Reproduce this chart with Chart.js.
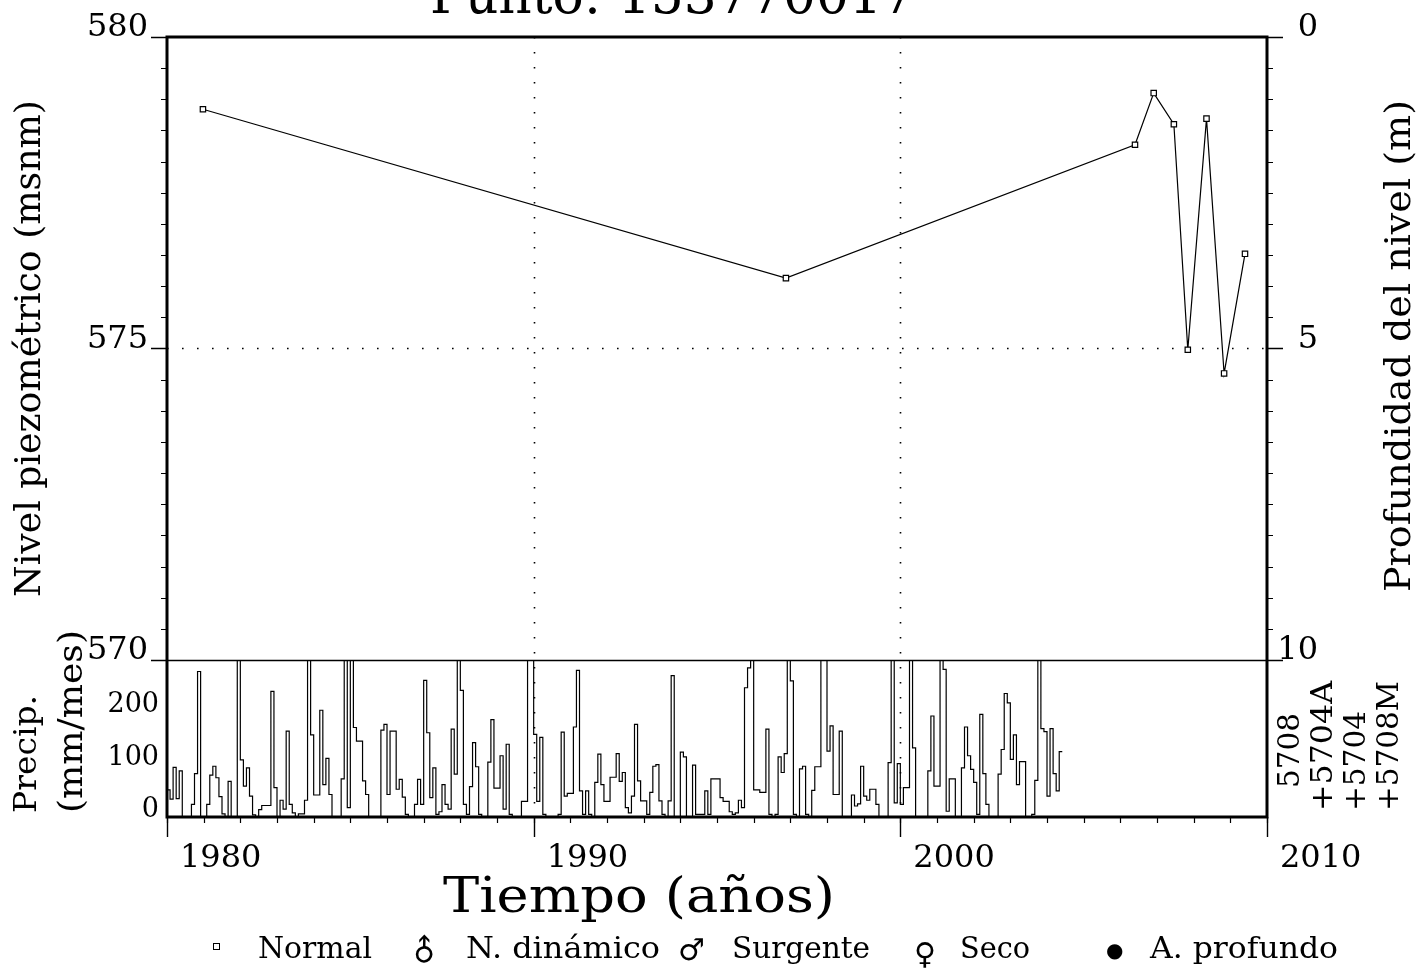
<!DOCTYPE html>
<html lang="es">
<head>
<meta charset="utf-8">
<title>Punto: 153770017</title>
<script src="https://cdn.jsdelivr.net/npm/chart.js@4.4.1/dist/chart.umd.min.js"></script>
<style>
html,body{margin:0;padding:0;background:#fff;}
#wrap{position:relative;width:1417px;height:969px;overflow:hidden;background:#fff;}
#c{position:absolute;left:0;top:0;}
.txt{position:absolute;white-space:nowrap;line-height:1;color:#000;font-family:"DejaVu Serif",serif;}
.sq{position:absolute;width:5px;height:5px;border:1.2px solid #000;background:#fff;}
</style>
</head>
<body>
<div id="wrap"><canvas id="c" width="1417" height="969"></canvas></div>
<script>
// ---------------- DATA ----------------
const chartTitle = 'Punto: 153770017';
const xTitle = 'Tiempo (años)';
const levelTitle = 'Nivel piezométrico (msnm)';
const depthTitle = 'Profundidad del nivel (m)';
const precipTitle = ['Precip.', '(mm/mes)'];
const precipStations = ['5708', '+5704A', '+5704', '+5708M'];
const legendLabels = ['Normal', 'N. dinámico', 'Surgente', 'Seco', 'A. profundo'];

// piezometric level measurements (decimal year, m a.s.l.)
const levelDates  = [1980.98, 1996.88, 2006.40, 2006.91, 2007.46, 2007.84, 2008.35, 2008.83, 2009.40];
const levelValues = [578.84, 576.13, 578.27, 579.10, 578.60, 574.98, 578.69, 574.60, 576.52];

// monthly precipitation (mm/month) from January 1980
const precipStartYear = 1980;
const precipMonthly = [
  52, 34, 95, 35, 88, 0, 0, 0, 24, 83, 278, 0,          // 1980
  0, 24, 80, 97, 75, 39, 6, 0, 68, 0, 0, 350,           // 1981
  109, 59, 94, 40, 4, 0, 14, 22, 22, 22, 240, 56,       // 1982
  0, 32, 15, 164, 24, 8, 0, 6, 6, 32, 350, 157,         // 1983
  42, 42, 204, 62, 112, 43, 0, 0, 0, 73, 350, 18,       // 1984
  350, 171, 145, 145, 69, 43, 0, 0, 0, 0, 166, 177,     // 1985
  43, 164, 164, 53, 72, 38, 5, 0, 0, 24, 72, 24,        // 1986
  261, 161, 37, 94, 5, 10, 62, 24, 15, 168, 82, 350,    // 1987
  242, 24, 5, 58, 142, 96, 5, 0, 0, 105, 186, 55,       // 1988
  55, 117, 15, 139, 5, 0, 0, 0, 30, 30, 350, 350,       // 1989
  158, 30, 152, 5, 0, 0, 0, 0, 5, 162, 40, 45,          // 1990
  45, 172, 280, 50, 5, 50, 5, 0, 66, 120, 62, 30,       // 1991
  30, 76, 76, 121, 68, 85, 18, 8, 40, 177, 69, 31,      // 1992
  31, 5, 47, 97, 100, 31, 5, 0, 31, 270, 0, 0,          // 1993
  124, 115, 0, 0, 99, 5, 5, 5, 50, 5, 73, 73,           // 1994
  73, 37, 30, 30, 10, 5, 8, 32, 18, 247, 285, 350,      // 1995
  52, 52, 47, 47, 168, 5, 0, 5, 115, 85, 121, 350,      // 1996
  260, 5, 0, 92, 97, 5, 0, 51, 96, 96, 350, 350,        // 1997
  126, 174, 43, 43, 164, 0, 0, 0, 42, 21, 25, 97,       // 1998
  40, 32, 53, 53, 24, 0, 0, 0, 104, 350, 27, 102,       // 1999
  24, 56, 56, 350, 132, 0, 0, 0, 0, 88, 193, 59,        // 2000
  59, 350, 282, 11, 73, 73, 0, 0, 94, 172, 117, 91,     // 2001
  66, 5, 196, 83, 24, 0, 0, 0, 82, 129, 236, 218,       // 2002
  110, 157, 62, 106, 106, 0, 0, 5, 70, 350, 169, 163,   // 2003
  40, 169, 83, 50, 125                                  // 2004
];

// axis ticks
const xTicks = [1980, 1990, 2000, 2010];
const levelTicks = [570, 575, 580];
const depthTicks = [0, 5, 10];
const precipTicks = [0, 100, 200];
const precipPanelMax = 300;

// ---------------- LAYOUT ----------------
const AREA = {left: 167, right: 1267, top: 37, split: 660, bottom: 817};
const W = 1417, H = 969;
const levelMin = levelTicks[0], levelMax = levelTicks[levelTicks.length - 1];
const lvlPerPx = (levelMax - levelMin) / (AREA.split - AREA.top);
const levelAxisMin = levelMin - (AREA.bottom - AREA.split) * lvlPerPx;
const precipAxisMax = precipPanelMax * (AREA.bottom - AREA.top) / (AREA.bottom - AREA.split);
const depthAxisMax = levelMax - levelAxisMin;

const levelPoints = levelDates.map((d, i) => ({x: d, y: levelValues[i]}));
const precipPoints = precipMonthly.map((v, i) => ({x: precipStartYear + i / 12, y: v}));
precipPoints.push({x: precipStartYear + precipMonthly.length / 12, y: precipMonthly[precipMonthly.length - 1]});

const SERIF = '"DejaVu Serif", serif';

const axesPlugin = {
  id: 'axesFrame',
  beforeDatasetDraw(chart, args) {
    if (args.index === 1) {
      const a = chart.chartArea, ctx = chart.ctx;
      const yTop = chart.scales.yPrecip.getPixelForValue(precipPanelMax);
      ctx.save();
      ctx.beginPath();
      ctx.rect(a.left, yTop, a.right - a.left, a.bottom - yTop);
      ctx.clip();
    }
  },
  afterDatasetDraw(chart, args) {
    if (args.index === 1) chart.ctx.restore();
  },
  beforeDatasetsDraw(chart) {
    const {ctx, chartArea: a, scales: {x, yLevel}} = chart;
    ctx.save();
    ctx.strokeStyle = '#000';
    ctx.lineWidth = 1.6;
    ctx.setLineDash([1.6, 13.4]);
    ctx.beginPath();
    xTicks.filter(v => v > x.min && v < x.max).forEach(v => {
      const px = Math.round(x.getPixelForValue(v)) + 0.5;
      ctx.moveTo(px, a.top); ctx.lineTo(px, a.bottom);
    });
    levelTicks.filter(v => v > levelMin && v < levelMax).forEach(v => {
      const py = Math.round(yLevel.getPixelForValue(v)) + 0.5;
      ctx.moveTo(a.left, py); ctx.lineTo(a.right, py);
    });
    ctx.stroke();
    ctx.restore();
  },
  afterDraw(chart) {
    const {ctx, chartArea: a, scales: {x, yLevel, yPrecip, yDepth}} = chart;
    ctx.save();
    ctx.strokeStyle = '#000';
    ctx.fillStyle = '#000';
    // minor ticks
    ctx.lineWidth = 1.2;
    ctx.beginPath();
    for (let v = levelMin; v <= levelMax + 1e-9; v += 0.5) {
      const y = Math.round(yLevel.getPixelForValue(v)) + 0.5;
      ctx.moveTo(a.left - 6, y); ctx.lineTo(a.left, y);
    }
    for (let d = 0; d <= depthTicks[depthTicks.length - 1] + 1e-9; d += 0.5) {
      const y = Math.round(yDepth.getPixelForValue(d)) + 0.5;
      ctx.moveTo(a.right, y); ctx.lineTo(a.right + 6, y);
    }
    for (let yr = x.min; yr <= x.max; yr++) {
      const px = Math.round(x.getPixelForValue(yr)) + 0.5;
      ctx.moveTo(px, a.bottom); ctx.lineTo(px, a.bottom + 6);
    }
    ctx.stroke();
    // major ticks
    ctx.lineWidth = 1.4;
    ctx.beginPath();
    levelTicks.forEach(v => {
      const y = Math.round(yLevel.getPixelForValue(v)) + 0.5;
      ctx.moveTo(a.left - 16, y); ctx.lineTo(a.left, y);
    });
    depthTicks.forEach(v => {
      const y = Math.round(yDepth.getPixelForValue(v)) + 0.5;
      ctx.moveTo(a.right, y); ctx.lineTo(a.right + 16, y);
    });
    xTicks.forEach(v => {
      const px = Math.round(x.getPixelForValue(v)) + 0.5;
      ctx.moveTo(px, a.bottom); ctx.lineTo(px, a.bottom + 20);
    });
    // panel separator
    const ys = Math.round(yLevel.getPixelForValue(levelMin)) + 0.5;
    ctx.moveTo(a.left, ys); ctx.lineTo(a.right, ys);
    ctx.stroke();
    // frame
    ctx.lineWidth = 3;
    ctx.beginPath();
    ctx.rect(a.left, a.top, a.right - a.left, a.bottom - a.top);
    ctx.stroke();
    // tick labels
    ctx.textBaseline = 'alphabetic';
    ctx.font = '32px ' + SERIF;
    ctx.textAlign = 'right';
    levelTicks.forEach(v => ctx.fillText(String(v), a.left - 19, yLevel.getPixelForValue(v) - 1));
    depthTicks.forEach(v => ctx.fillText(String(v), a.right + 51, yDepth.getPixelForValue(v) - 1));
    ctx.textAlign = 'left';
    xTicks.forEach(v => ctx.fillText(String(v), x.getPixelForValue(v) + 13, a.bottom + 50));
    ctx.font = '27px ' + SERIF;
    ctx.textAlign = 'right';
    precipTicks.forEach(v => ctx.fillText(String(v), a.left - 8, yPrecip.getPixelForValue(v)));
    ctx.restore();
  }
};

new Chart(document.getElementById('c'), {
  type: 'line',
  data: {
    datasets: [
      {
        label: 'Nivel piezométrico',
        data: levelPoints,
        yAxisID: 'yLevel',
        borderColor: '#000',
        borderWidth: 1.2,
        tension: 0,
        pointStyle: 'rect',
        pointRadius: 3.8,
        pointBorderWidth: 1.2,
        pointBackgroundColor: '#fff',
        pointBorderColor: '#000'
      },
      {
        label: 'Precipitación',
        data: precipPoints,
        yAxisID: 'yPrecip',
        stepped: 'before',
        borderColor: '#000',
        borderWidth: 1.2,
        pointRadius: 0,
        fill: false
      }
    ]
  },
  options: {
    responsive: false,
    animation: false,
    devicePixelRatio: 1,
    events: [],
    layout: {padding: {left: AREA.left, right: W - AREA.right, top: AREA.top, bottom: H - AREA.bottom}},
    plugins: {legend: {display: false}, tooltip: {enabled: false}, title: {display: false}},
    scales: {
      x: {type: 'linear', min: xTicks[0], max: xTicks[xTicks.length - 1], display: false},
      yLevel: {type: 'linear', min: levelAxisMin, max: levelMax, display: false},
      yPrecip: {type: 'linear', min: 0, max: precipAxisMax, display: false},
      yDepth: {type: 'linear', min: 0, max: depthAxisMax, reverse: true, display: false}
    }
  },
  plugins: [axesPlugin]
});

// ---------------- TEXT (DOM) ----------------
const wrap = document.getElementById('wrap');
function baselineOf(family, size) {
  const d = document.createElement('div');
  d.className = 'txt';
  d.style.cssText += ';visibility:hidden;left:0;top:0;font-family:' + family + ';font-size:' + size + 'px';
  d.innerHTML = 'Hg<span style="display:inline-block;width:1px;height:0;vertical-align:baseline"></span>';
  wrap.appendChild(d);
  const b = d.lastChild.offsetTop;
  d.remove();
  return b;
}
function place(text, o) {
  const family = o.family || SERIF;
  const el = document.createElement('div');
  el.className = 'txt';
  el.textContent = text;
  el.style.fontFamily = family;
  el.style.fontSize = o.size + 'px';
  wrap.appendChild(el);
  const b = baselineOf(family, o.size);
  const w = el.getBoundingClientRect().width;
  const s = o.w ? o.w / w : 1;
  el.style.left = o.x + 'px';
  el.style.top = (o.y - b) + 'px';
  el.style.transformOrigin = '0px ' + b + 'px';
  el.style.transform = (o.rot ? 'rotate(' + o.rot + 'deg) ' : '') + 'scaleX(' + s + ')';
  return el;
}

place(chartTitle, {x: 430, y: 13, size: 52, w: 485});
place(xTitle, {x: 443, y: 912, size: 48, w: 392});
place(levelTitle, {x: 40, y: 597, size: 35, w: 497, rot: -90});
place(depthTitle, {x: 1410, y: 592, size: 35, w: 492, rot: -90});
place(precipTitle[0], {x: 36, y: 813, size: 31, w: 118, rot: -90});
place(precipTitle[1], {x: 82, y: 813, size: 33, w: 183, rot: -90});
const stationBase = [1299, 1332, 1365, 1398];
const stationStart = [788, 811, 811, 811];
const stationLen = [75, 130, 100, 130];
precipStations.forEach((t, i) => place(t, {x: stationBase[i], y: stationStart[i], size: 29, w: stationLen[i], rot: -90}));

// legend
const sq = document.createElement('div');
sq.className = 'sq';
sq.style.left = '213px'; sq.style.top = '943px';
wrap.appendChild(sq);
const legendX = [258, 466, 732, 960, 1150];
const legendW = [114, 194, 138, 70, 188];
legendLabels.forEach((t, i) => place(t, {x: legendX[i], y: 958, size: 29, w: legendW[i]}));
const symDyn = place('\u2642', {x: 414, y: 962, size: 30, family: '"DejaVu Sans", sans-serif'});
symDyn.style.transform = 'rotate(-45deg)';
symDyn.style.transformOrigin = '40% 60%';
place('\u2642', {x: 678, y: 960, size: 30, family: '"DejaVu Sans", sans-serif'});
place('\u2640', {x: 914, y: 964, size: 30, family: '"DejaVu Sans", sans-serif'});
place('\u25CF', {x: 1106, y: 957, size: 20, family: '"DejaVu Sans", sans-serif'});
</script>
</body>
</html>
